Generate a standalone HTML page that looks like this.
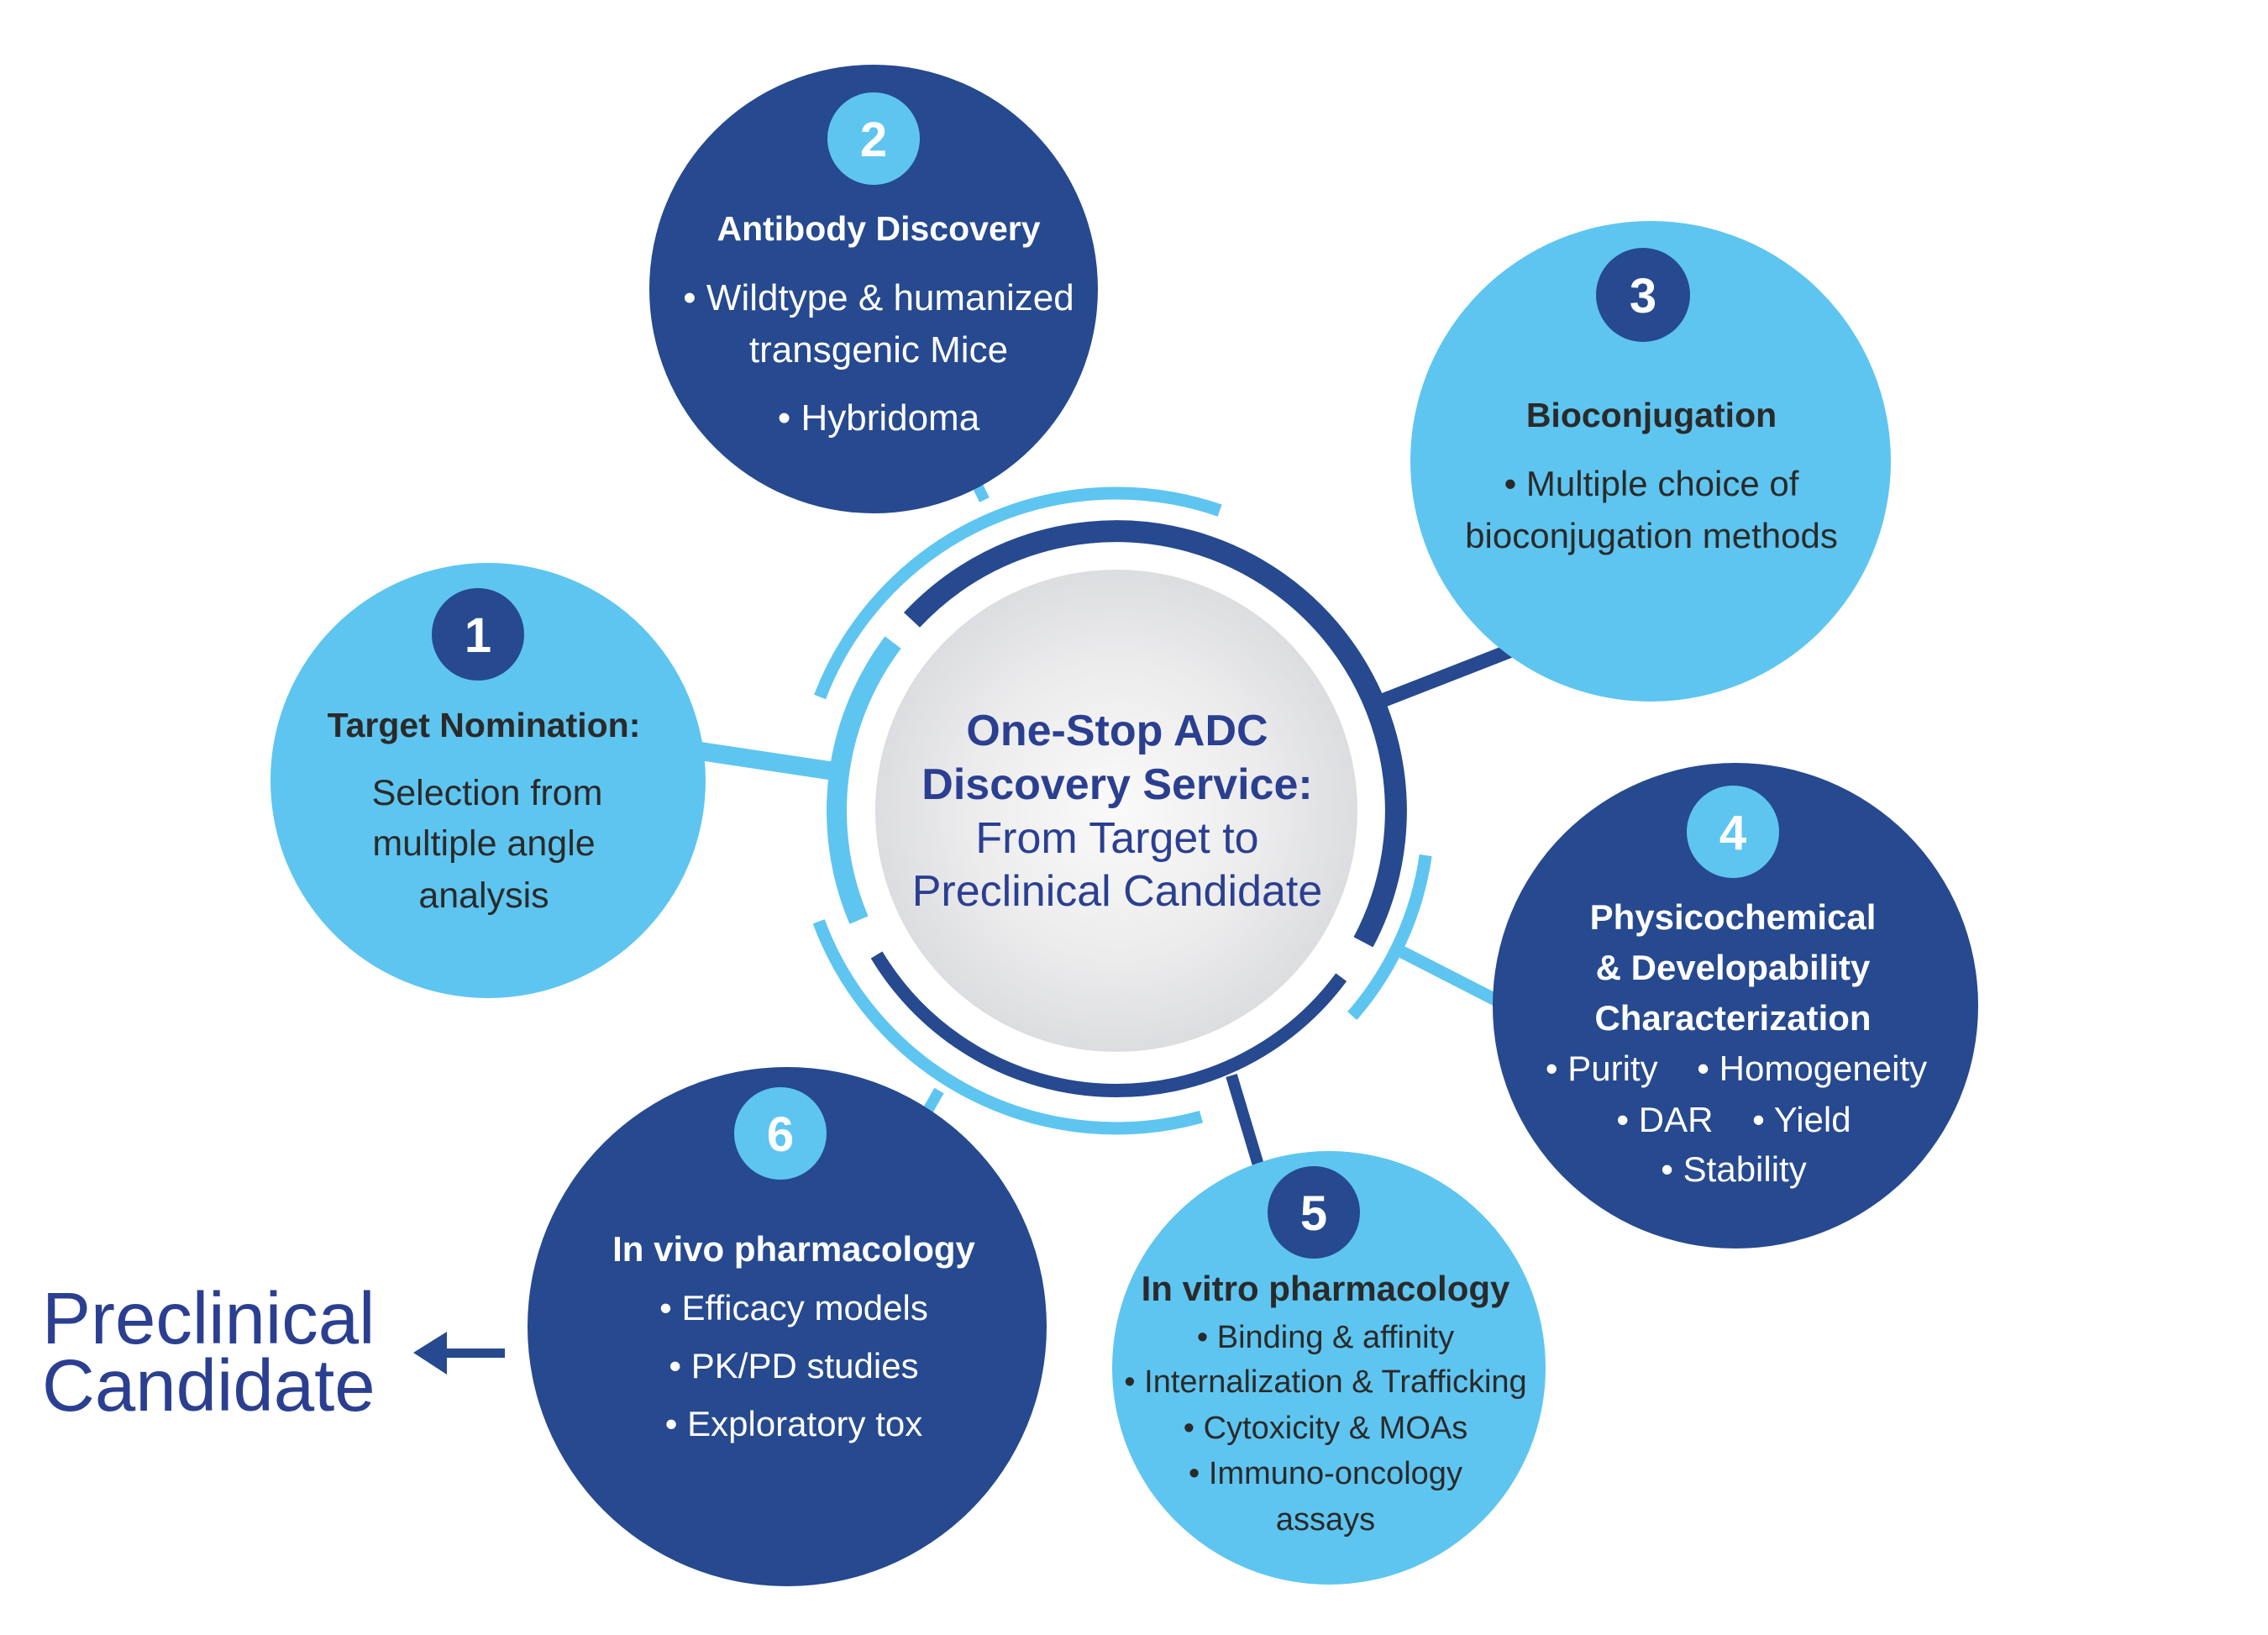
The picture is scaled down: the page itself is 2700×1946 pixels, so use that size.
<!DOCTYPE html>
<html><head><meta charset="utf-8"><style>
html,body{margin:0;padding:0;background:#fff;}
svg{display:block;}
text{font-family:"Liberation Sans",sans-serif;white-space:pre;}
</style></head><body>
<svg width="2700" height="1946" viewBox="0 0 2700 1946" xmlns="http://www.w3.org/2000/svg">
<defs>
<radialGradient id="g" cx="50%" cy="50%" r="50%">
<stop offset="0" stop-color="#fafafa"/><stop offset="0.6" stop-color="#ececed"/><stop offset="1" stop-color="#dcdde0"/>
</radialGradient>
</defs>
<rect width="2700" height="1946" fill="#fff"/>
<g stroke-linecap="butt">
<line x1="1172" y1="595" x2="1135" y2="520" stroke="#5ec5f0" stroke-width="13"/>
<line x1="1648" y1="833" x2="1840" y2="758" stroke="#26498f" stroke-width="17"/>
<line x1="1000" y1="919" x2="820" y2="892" stroke="#5ec5f0" stroke-width="22"/>
<line x1="1669" y1="1133" x2="1790" y2="1195" stroke="#5ec5f0" stroke-width="15"/>
<line x1="1466" y1="1280" x2="1508" y2="1420" stroke="#26498f" stroke-width="14"/>
<line x1="1118" y1="1298" x2="1080" y2="1365" stroke="#5ec5f0" stroke-width="13"/>
</g>
<g fill="none">
<path d="M1085.5,737.9 A333,333 0 0 1 1623,1121.3" stroke="#26498f" stroke-width="26"/>
<path d="M1596.7,1163.1 A333,333 0 0 1 1043.6,1136.5" stroke="#26498f" stroke-width="16"/>
<path d="M1022.5,1095.1 A333,333 0 0 1 1063.1,764.6" stroke="#5ec5f0" stroke-width="24"/>
<path d="M976.1,829.5 A378,378 0 0 1 1452.1,607.6" stroke="#5ec5f0" stroke-width="15"/>
<path d="M1430,1329.2 A378,378 0 0 1 974.7,1096.8" stroke="#5ec5f0" stroke-width="15"/>
<path d="M1697.2,1018 A372,372 0 0 1 1609.7,1209.1" stroke="#5ec5f0" stroke-width="15"/>
</g>
<circle cx="1329" cy="965" r="287" fill="url(#g)"/>
<g fill="#2b3f91" text-anchor="middle" font-size="52">
<text x="1330" y="887" font-weight="bold">One-Stop ADC</text>
<text x="1330" y="951" font-weight="bold">Discovery Service:</text>
<text x="1330" y="1015">From Target to</text>
<text x="1330" y="1078">Preclinical Candidate</text>
</g>
<circle cx="1040" cy="344" r="267" fill="#26498f"/>
<circle cx="1965" cy="549" r="286" fill="#5ec5f0"/>
<circle cx="581" cy="929" r="259" fill="#5ec5f0"/>
<circle cx="2066" cy="1197" r="289" fill="#26498f"/>
<circle cx="1582" cy="1628" r="258" fill="#5ec5f0"/>
<circle cx="937" cy="1579" r="309" fill="#26498f"/>
<circle cx="1040" cy="165" r="55" fill="#5ec5f0"/>
<circle cx="1956" cy="351" r="56" fill="#26498f"/>
<circle cx="569" cy="755" r="55" fill="#26498f"/>
<circle cx="2063" cy="990" r="55" fill="#5ec5f0"/>
<circle cx="1564" cy="1443" r="55" fill="#26498f"/>
<circle cx="929" cy="1349" r="55" fill="#5ec5f0"/>
<g fill="#fff" font-size="58" font-weight="bold" text-anchor="middle">
<text x="1040" y="186">2</text>
<text x="1956" y="372">3</text>
<text x="569" y="776">1</text>
<text x="2063" y="1011">4</text>
<text x="1564" y="1464">5</text>
<text x="929" y="1370">6</text>
</g>
<g fill="#fff" text-anchor="middle">
<text x="1046" y="286" font-size="41" font-weight="bold">Antibody Discovery</text>
<text x="1046" y="369" font-size="44">• Wildtype &amp; humanized</text>
<text x="1046" y="431" font-size="44">transgenic Mice</text>
<text x="1046" y="512" font-size="44">• Hybridoma</text>
</g>
<g fill="#2a2a2a" text-anchor="middle">
<text x="1966" y="508" font-size="41" font-weight="bold">Bioconjugation</text>
<text x="1966" y="590" font-size="42">• Multiple choice of</text>
<text x="1966" y="652" font-size="42">bioconjugation methods</text>
</g>
<g fill="#2a2a2a" text-anchor="middle">
<text x="576" y="877" font-size="41" font-weight="bold">Target Nomination:</text>
<text x="580" y="958" font-size="43">Selection from</text>
<text x="576" y="1018" font-size="43">multiple angle</text>
<text x="576" y="1080" font-size="43">analysis</text>
</g>
<g fill="#fff" text-anchor="middle">
<text x="2063" y="1106" font-size="42" font-weight="bold">Physicochemical</text>
<text x="2063" y="1166" font-size="42" font-weight="bold">&amp; Developability</text>
<text x="2063" y="1226" font-size="42" font-weight="bold">Characterization</text>
<text x="2067" y="1286" font-size="42">• Purity    • Homogeneity</text>
<text x="2064" y="1347" font-size="42">• DAR    • Yield</text>
<text x="2064" y="1406" font-size="42">• Stability</text>
</g>
<g fill="#2a2a2a" text-anchor="middle">
<text x="1578" y="1548" font-size="42" font-weight="bold">In vitro pharmacology</text>
<text x="1578" y="1604" font-size="38">• Binding &amp; affinity</text>
<text x="1578" y="1657" font-size="38">• Internalization &amp; Trafficking</text>
<text x="1578" y="1712" font-size="38">• Cytoxicity &amp; MOAs</text>
<text x="1578" y="1766" font-size="38">• Immuno-oncology</text>
<text x="1578" y="1821" font-size="38">assays</text>
</g>
<g fill="#fff" text-anchor="middle">
<text x="945" y="1501" font-size="42" font-weight="bold">In vivo pharmacology</text>
<text x="945" y="1571" font-size="42">• Efficacy models</text>
<text x="945" y="1640" font-size="42">• PK/PD studies</text>
<text x="945" y="1709" font-size="42">• Exploratory tox</text>
</g>
<g fill="#2b3f91" font-size="87">
<text x="50" y="1599">Preclinical</text>
<text x="50" y="1679">Candidate</text>
</g>
<polygon points="492,1610 532,1585 532,1636" fill="#26498f"/>
<rect x="530" y="1605" width="71" height="11" fill="#26498f"/>
</svg>
</body></html>
